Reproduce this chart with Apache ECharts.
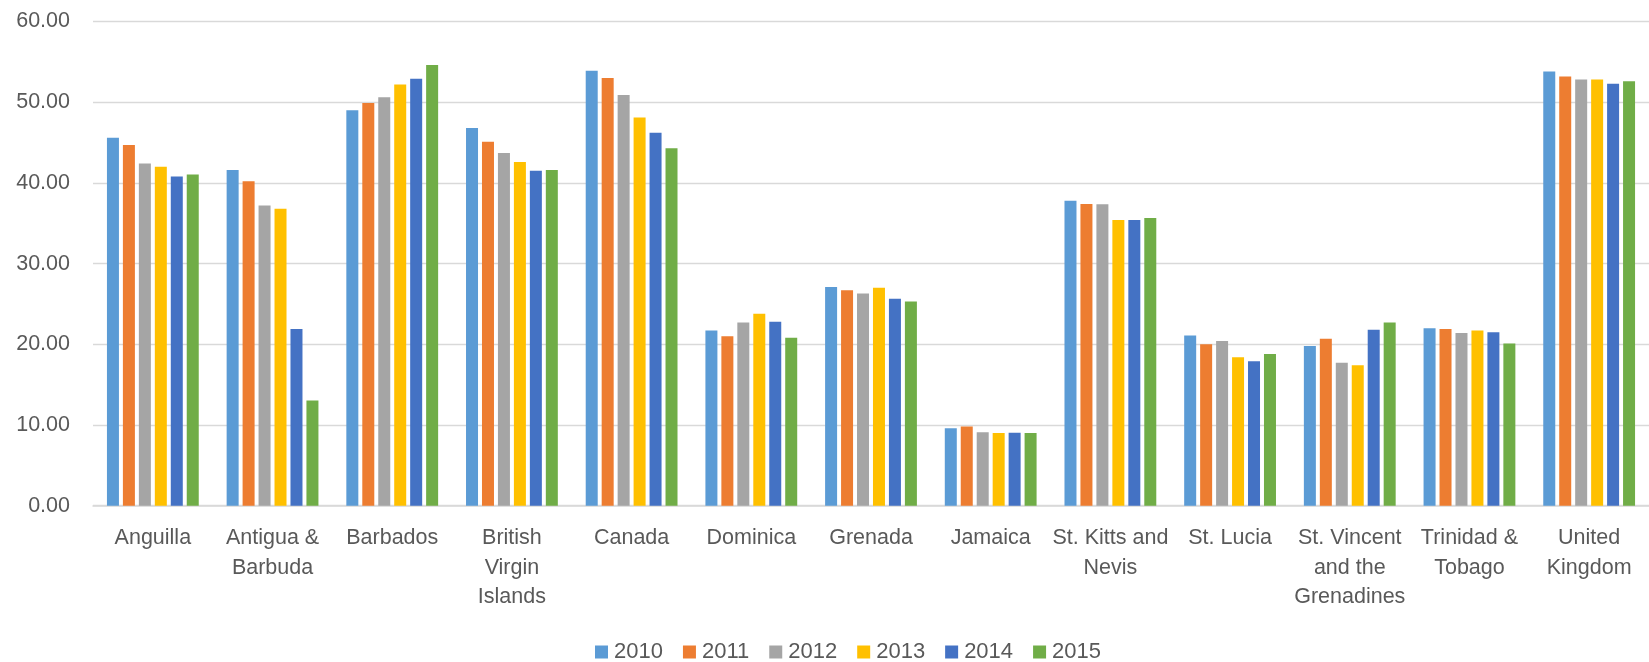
<!DOCTYPE html>
<html>
<head>
<meta charset="utf-8">
<script src="https://cdn.jsdelivr.net/npm/echarts@6/dist/echarts.min.js"></script>
<style>
  html, body { margin: 0; padding: 0; background: #ffffff; }
  #chart { width: 1649px; height: 662px; }
</style>
</head>
<body>
<div id="chart"></div>
<script>
const categories = ["Anguilla", "Antigua &\nBarbuda", "Barbados", "British\nVirgin\nIslands", "Canada", "Dominica", "Grenada", "Jamaica", "St. Kitts and\nNevis", "St. Lucia", "St. Vincent\nand the\nGrenadines", "Trinidad &\nTobago", "United\nKingdom"];
const seriesNames = ["2010", "2011", "2012", "2013", "2014", "2015"];
const v2010 = [45.6, 41.6, 49.0, 46.8, 53.9, 21.7, 27.1, 9.6, 37.8, 21.1, 19.8, 22.0, 53.8];
const v2011 = [44.7, 40.2, 49.9, 45.1, 53.0, 21.0, 26.7, 9.8, 37.4, 20.0, 20.7, 21.9, 53.2];
const v2012 = [42.4, 37.2, 50.6, 43.7, 50.9, 22.7, 26.3, 9.1, 37.35, 20.4, 17.7, 21.4, 52.8];
const v2013 = [42.0, 36.8, 52.2, 42.6, 48.1, 23.8, 27.0, 9.0, 35.4, 18.4, 17.4, 21.7, 52.8];
const v2014 = [40.8, 21.9, 52.9, 41.5, 46.2, 22.8, 25.65, 9.05, 35.4, 17.9, 21.8, 21.5, 52.3];
const v2015 = [41.05, 13.05, 54.6, 41.6, 44.3, 20.8, 25.3, 9.0, 35.65, 18.8, 22.7, 20.1, 52.6];
const yTicks = [0, 10, 20, 30, 40, 50, 60];
const colors = ["#5B9BD5", "#ED7D31", "#A5A5A5", "#FFC000", "#4472C4", "#70AD47"];

const allValues = [v2010, v2011, v2012, v2013, v2014, v2015];
const textColor = "#595959";
const font = "'Liberation Sans', Arial, sans-serif";

const chart = echarts.init(document.getElementById('chart'), null, { renderer: 'canvas' });
chart.setOption({
  animation: false,
  color: colors,
  grid: { left: 93, right: 0, top: 21.5, bottom: 156.3, containLabel: false },
  legend: {
    data: seriesNames,
    top: 636,
    left: 590,
    icon: 'rect',
    itemWidth: 13,
    itemHeight: 13,
    itemGap: 20,
    textStyle: { color: textColor, fontSize: 22, fontFamily: font, padding: [0, 0, 0, 1] }
  },
  xAxis: {
    type: 'category',
    data: categories,
    axisLine: { show: true, lineStyle: { color: '#D9D9D9', width: 1.5 } },
    axisTick: { show: false },
    axisLabel: {
      interval: 0,
      color: textColor,
      fontSize: 21.5,
      fontFamily: font,
      lineHeight: 29.5,
      margin: 18,
      align: 'center'
    }
  },
  yAxis: {
    type: 'value',
    min: yTicks[0],
    max: yTicks[yTicks.length - 1],
    interval: yTicks[1] - yTicks[0],
    axisLine: { show: false },
    axisTick: { show: false },
    splitLine: { lineStyle: { color: '#D9D9D9', width: 1.3 } },
    axisLabel: {
      color: textColor,
      fontSize: 21.5,
      fontFamily: font,
      margin: 23,
      formatter: v => v.toFixed(2)
    }
  },
  series: seriesNames.map((name, i) => ({
    name: name,
    type: 'bar',
    data: allValues[i],
    barWidth: 12,
    barGap: '33%',
    itemStyle: { color: colors[i] }
  }))
});
</script>
</body>
</html>
